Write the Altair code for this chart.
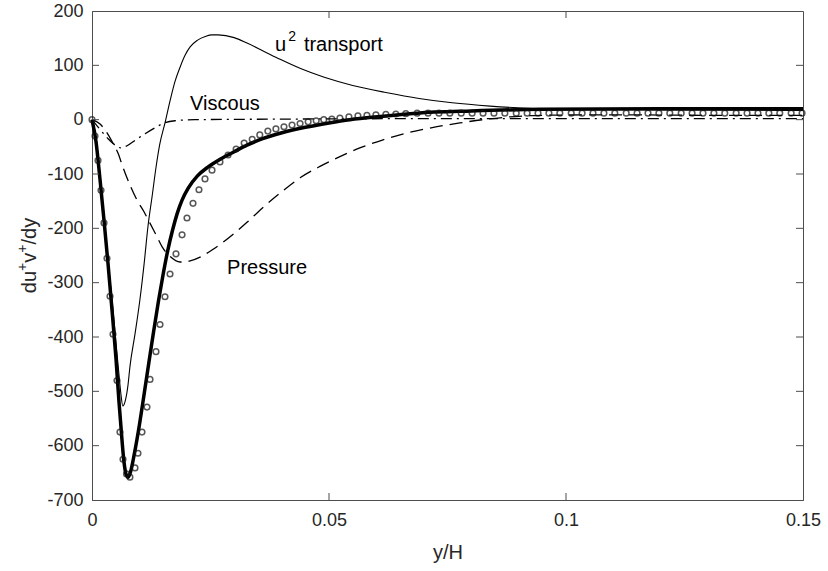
import altair as alt
import pandas as pd

# ---------------- data ----------------
# thick solid line
tot_x = [0, 0.00084, 0.00169, 0.00253, 0.00338, 0.00422, 0.00506, 0.0057, 0.00633, 0.00675,
         0.00717, 0.0076, 0.0080, 0.0090, 0.0100, 0.0110, 0.0120, 0.0130, 0.0140, 0.0150,
         0.0160, 0.0170, 0.0180, 0.0190, 0.0203, 0.0222, 0.0245, 0.0270, 0.0300, 0.0327,
         0.0360, 0.0397, 0.0450, 0.0500, 0.0544, 0.0608, 0.0686, 0.0800, 0.0945, 0.1200, 0.1500]
tot_y = [0, -40, -110, -185, -265, -350, -440, -520, -590, -630,
         -652, -658, -652, -612, -562, -505, -447, -390, -335, -285,
         -240, -203, -172, -148, -126, -104, -87, -73, -59, -47,
         -35, -25, -14, -6, 0, 6, 12, 16, 19, 20, 20]

# thin solid line: u^2 transport
u2_x = [0, 0.00084, 0.00169, 0.00253, 0.00338, 0.00422, 0.00506, 0.0057, 0.0061, 0.0065,
        0.0070, 0.0076, 0.0080, 0.0091, 0.0101, 0.0110, 0.0118, 0.0127, 0.0135, 0.0143,
        0.0154, 0.0165, 0.0175, 0.0186, 0.0196, 0.0207, 0.0222, 0.0239, 0.0253, 0.0266,
        0.0300, 0.0327, 0.0360, 0.0397, 0.0440, 0.0490, 0.0550, 0.0620, 0.0690, 0.0760,
        0.0840, 0.0920, 0.1000, 0.1200, 0.1500]
u2_y = [0, -40, -110, -185, -262, -330, -410, -470, -505, -527,
        -518, -488, -455, -393, -332, -265, -197, -140, -88, -45,
        -6, 36, 70, 97, 118, 134, 146, 153, 156, 156,
        151, 141, 127, 111, 94, 78, 63, 50, 39, 31,
        25, 21, 19, 18, 17]

# dashed: pressure
pr_x = [0, 0.0017, 0.0030, 0.0044, 0.0055, 0.0065, 0.0080, 0.0095, 0.0110, 0.0122,
        0.0135, 0.0148, 0.0165, 0.0186, 0.0207, 0.0228, 0.0253, 0.0276, 0.0302, 0.0327,
        0.0359, 0.0397, 0.0439, 0.0481, 0.0523, 0.0565, 0.0614, 0.0671, 0.0728, 0.0776,
        0.0825, 0.0880, 0.0950, 0.1100, 0.1300, 0.1500]
pr_y = [0, -8, -22, -43, -62, -87, -120, -148, -170, -190,
        -212, -234, -252, -262, -260, -253, -240, -226, -208, -189,
        -163, -135, -107, -86, -68, -52, -37, -23, -13, -6,
        0, 5, 8, 9, 8, 8]

# dash-dot: viscous
vi_x = [0, 0.0017, 0.0034, 0.0049, 0.0061, 0.0074, 0.0091, 0.0112, 0.0133, 0.0150,
        0.0175, 0.0217, 0.0400, 0.0800, 0.1200, 0.15]
vi_y = [0, -18, -35, -47, -52, -48, -38, -26, -15, -7,
        -2, 0, 1, 2, 2, 2]

# open circles
ci_x = [0, 0.00063, 0.00127, 0.0019, 0.00253, 0.00316, 0.0038, 0.00443, 0.00527, 0.0059,
        0.00654, 0.00728, 0.0080, 0.00907, 0.0097, 0.01055, 0.0116, 0.01224, 0.0135, 0.01435,
        0.0154, 0.01646, 0.01772, 0.0190, 0.02004, 0.02131, 0.02257, 0.02384, 0.02532, 0.0270,
        0.0287, 0.0304, 0.0321, 0.0338, 0.0354, 0.0371, 0.0388, 0.0405, 0.0422, 0.0439,
        0.0456, 0.0473, 0.0489, 0.0506, 0.0523, 0.0542, 0.0561, 0.0580, 0.0599, 0.0620,
        0.0641, 0.0662, 0.0686, 0.0709, 0.0732, 0.0755, 0.0779, 0.0802, 0.0825, 0.0848,
        0.0871, 0.0895, 0.0918, 0.0941, 0.0964, 0.0987, 0.1011, 0.1034, 0.1057, 0.1080,
        0.1103, 0.1127, 0.1150, 0.1173, 0.1196, 0.1219, 0.1243, 0.1266, 0.1289, 0.1312,
        0.1335, 0.1359, 0.1382, 0.1405, 0.1428, 0.1451, 0.1475, 0.1498]
ci_y = [0, -30, -75, -130, -190, -255, -325, -395, -480, -575,
        -625, -652, -658, -641, -614, -575, -529, -478, -427, -377,
        -326, -284, -247, -212, -181, -154, -129, -109, -93, -78,
        -65, -54, -43, -36, -28, -21, -17, -13, -10, -7,
        -4, -2, 0, 1, 3, 5, 7, 8, 9, 10,
        10.5, 11, 12, 12, 12, 12, 12, 12, 12, 12,
        12, 12, 12, 12, 12, 12, 12, 12, 12, 12,
        12, 12, 12, 12, 12, 12, 12, 12, 12, 12,
        12, 12, 12, 12, 12, 12, 12, 12]

# annotations
lab_text = ["u", "transport", "Viscous", "Pressure"]
lab_x = [0.0386, 0.0447, 0.0207, 0.0285]
lab_y = [137, 137, 29, -273]
sup_text = ["2"]
sup_x = [0.0414]
sup_y = [137]

# axis ticks
x_ticks = [0, 0.05, 0.1, 0.15]
y_ticks = [200, 100, 0, -100, -200, -300, -400, -500, -600, -700]

W, H = 711, 489
FONT = "Liberation Sans"
TXT = "#262626"
AX = "#4d4d4d"
FS = 18
TFS = 20
SFS = 14

# y-axis title pieces (base text and raised "+" signs), laid out along the rotated title
yt_text = ["du", "+", "v", "+", "/dy"]
yt_sup = [False, True, False, True, False]

xs = alt.Scale(domain=[0, 0.15], nice=False, zero=False)
ys = alt.Scale(domain=[-700, 200], nice=False, zero=False)

X = alt.X("x:Q", scale=xs,
          axis=alt.Axis(values=x_ticks, labelExpr="datum.value + ''", title="y/H", grid=False, ticks=False,
                        labelPadding=11, domainColor=AX, labelColor=TXT, titleColor=TXT,
                        labelFont=FONT, titleFont=FONT, labelFontSize=FS, titleFontSize=TFS,
                        titleFontWeight="normal", titleX=W / 2, titleY=52, titleBaseline="middle",
                        labelFlush=False))
Y = alt.Y("y:Q", scale=ys,
          axis=alt.Axis(values=y_ticks, labelExpr="datum.value + ''", title=None, grid=False, ticks=False,
                        labelPadding=9, domainColor=AX, labelColor=TXT,
                        labelFont=FONT, labelFontSize=FS, labelFlush=False))

def df(xv, yv):
    return pd.DataFrame({"x": xv, "y": yv})

interp = "monotone"
thick = alt.Chart(df(tot_x, tot_y)).mark_line(color="black", strokeWidth=3.5, interpolate=interp).encode(x=X, y=Y)
thin = alt.Chart(df(u2_x, u2_y)).mark_line(color="black", strokeWidth=1.1, interpolate=interp).encode(x="x:Q", y="y:Q")
pres = alt.Chart(df(pr_x, pr_y)).mark_line(color="black", strokeWidth=1.3, strokeDash=[13, 7], interpolate=interp).encode(x="x:Q", y="y:Q")
visc = alt.Chart(df(vi_x, vi_y)).mark_line(color="black", strokeWidth=1.3, strokeDash=[11, 5, 2, 5], interpolate=interp).encode(x="x:Q", y="y:Q")
circ = alt.Chart(df(ci_x, ci_y)).mark_point(shape="circle", filled=False, size=32, strokeWidth=1.5, color="#111").encode(x="x:Q", y="y:Q")

labels = alt.Chart(pd.DataFrame({"t": lab_text, "x": lab_x, "y": lab_y})).mark_text(
    align="left", baseline="middle", font=FONT, fontSize=TFS, color="black").encode(
    x="x:Q", y="y:Q", text="t:N")
sup = alt.Chart(pd.DataFrame({"t": sup_text, "x": sup_x, "y": sup_y})).mark_text(
    align="left", baseline="middle", font=FONT, fontSize=SFS, color="black", dy=-8).encode(
    x="x:Q", y="y:Q", text="t:N")

# rotated y title built from pieces: advance widths from Arial metrics
adv = {"du": 1.112 * TFS, "+": 0.584 * SFS, "v": 0.5 * TFS, "/dy": 1.334 * TFS}
total = sum(adv[t] for t in yt_text)
start = H / 2 + total / 2
ytitle_layers = []
pos = start
for t, s in zip(yt_text, yt_sup):
    ytitle_layers.append(
        alt.Chart(pd.DataFrame({"t": [t]})).mark_text(
            align="left", baseline="middle", angle=270, font=FONT,
            fontSize=SFS if s else TFS, color=TXT).encode(
            text="t:N", x=alt.value(-69 if s else -62), y=alt.value(pos)))
    pos -= adv[t]

xt = pd.DataFrame({"x": x_ticks[1:-1]})
yt = pd.DataFrame({"y": y_ticks[1:-1]})
tick_style = dict(color=AX, strokeWidth=1)
xb = alt.Chart(xt).mark_rule(**tick_style).encode(x="x:Q", y=alt.value(H), y2=alt.value(H - 7))
xtop = alt.Chart(xt).mark_rule(**tick_style).encode(x="x:Q", y=alt.value(0), y2=alt.value(7))
yl = alt.Chart(yt).mark_rule(**tick_style).encode(y="y:Q", x=alt.value(0), x2=alt.value(7))
yr = alt.Chart(yt).mark_rule(**tick_style).encode(y="y:Q", x=alt.value(W), x2=alt.value(W - 7))

chart = alt.layer(thick, thin, pres, visc, circ, labels, sup, xb, xtop, yl, yr, *ytitle_layers).properties(
    width=W, height=H,
    autosize=alt.AutoSizeParams(type="none"),
    padding={"left": 92, "top": 11, "right": 25, "bottom": 71},
    background="white",
).configure_view(stroke=AX, strokeWidth=1)

chart.save("out.html", embed_options={"renderer": "svg", "actions": False})
